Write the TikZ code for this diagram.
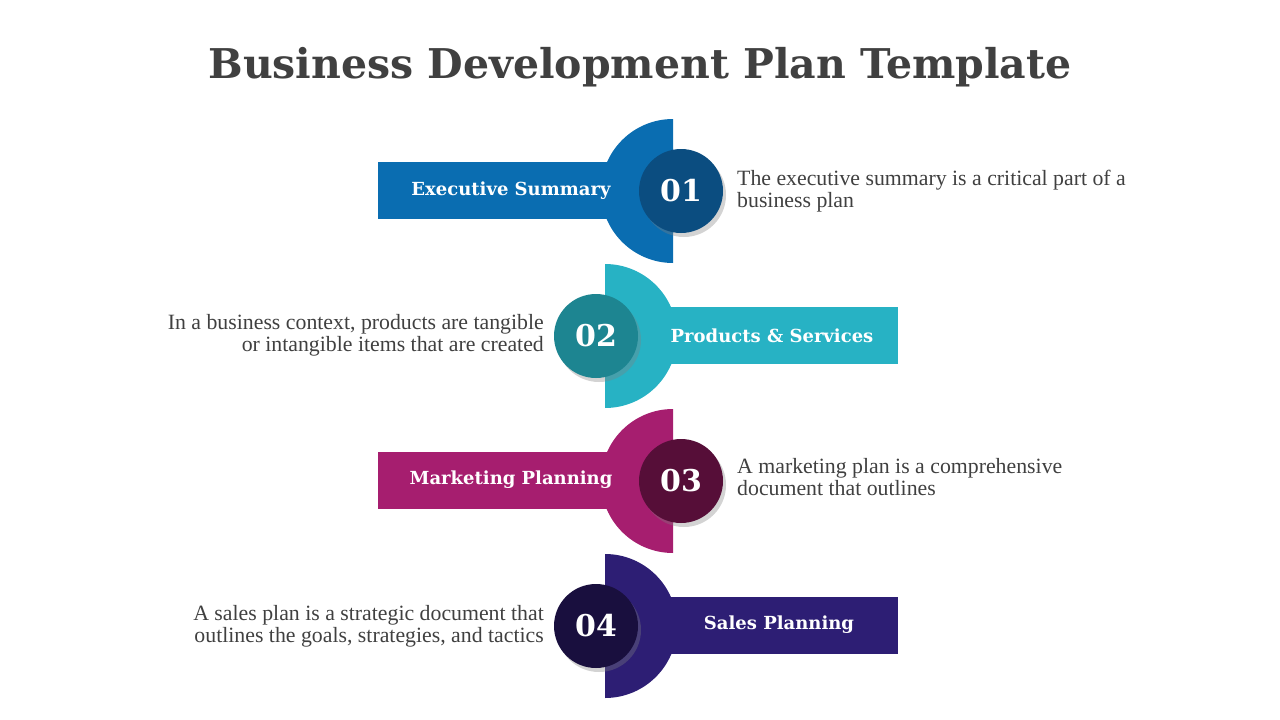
\documentclass[tikz,border=0pt]{standalone}
\usepackage{fontspec}
\setmainfont{DejaVu Serif}
\newfontfamily\bodyf{Liberation Serif}
\usetikzlibrary{shadows}
\definecolor{txt}{HTML}{404040}
\definecolor{ca}{HTML}{0A6DB1}\definecolor{cad}{HTML}{0B4D80}
\definecolor{cb}{HTML}{27B2C4}\definecolor{cbd}{HTML}{1D8591}
\definecolor{cc}{HTML}{A61E6F}\definecolor{ccd}{HTML}{560E38}
\definecolor{cd}{HTML}{2D1E74}\definecolor{cdd}{HTML}{190F3E}
\tikzset{
 numc/.style={circle,minimum size=84pt,inner sep=0pt,text=white,font=\fontsize{30}{30}\selectfont\bfseries,drop shadow={shadow xshift=3pt,shadow yshift=-4pt,opacity=0.35}},
 lab/.style={text=white,font=\fontsize{18}{20}\selectfont\bfseries},
 desc/.style={text=txt,font=\bodyf\fontsize{21.8}{22}\selectfont,inner sep=0pt}
}
\begin{document}
\begin{tikzpicture}[x=1pt,y=-1pt]
\useasboundingbox (0,0) rectangle (1280,720);
\node[text=txt,font=\fontsize{41}{44}\selectfont\bfseries] (title) at (640,67) {Business Development Plan Template};
% row 1
\fill[ca] (378,162) rectangle (673,219);
\fill[ca] (673,119) -- (673,263) arc[start angle=90,end angle=270,radius=72] -- cycle;
\node[numc,fill=cad] (n1) at (681,191) {01};
\node[lab] (l1) at (511,191) {Executive Summary};
\node[desc,anchor=west,align=left] (d1) at (737,191) {The executive summary is a critical part of a\\business plan};
% row 2
\fill[cb] (605,307) rectangle (898,364);
\fill[cb] (605,264) arc[start angle=-90,end angle=90,radius=72] -- cycle;
\node[numc,fill=cbd] (n2) at (596,336) {02};
\node[lab] (l2) at (772,336) {Products \& Services};
\node[desc,anchor=east,align=right] (d2) at (544,335) {In a business context, products are tangible\\or intangible items that are created};
% row 3
\fill[cc] (378,452) rectangle (673,509);
\fill[cc] (673,409) -- (673,553) arc[start angle=90,end angle=270,radius=72] -- cycle;
\node[numc,fill=ccd] (n3) at (681,481) {03};
\node[lab] (l3) at (511,480) {Marketing Planning};
\node[desc,anchor=west,align=left] (d3) at (737,477) {A marketing plan is a comprehensive\\document that outlines};
% row 4
\fill[cd] (605,597) rectangle (898,654);
\fill[cd] (605,554) arc[start angle=-90,end angle=90,radius=72] -- cycle;
\node[numc,fill=cdd] (n4) at (596,626) {04};
\node[lab] (l4) at (779,625) {Sales Planning};
\node[desc,anchor=east,align=right] (d4) at (544,626) {A sales plan is a strategic document that\\outlines the goals, strategies, and tactics};
\end{tikzpicture}
\end{document}
